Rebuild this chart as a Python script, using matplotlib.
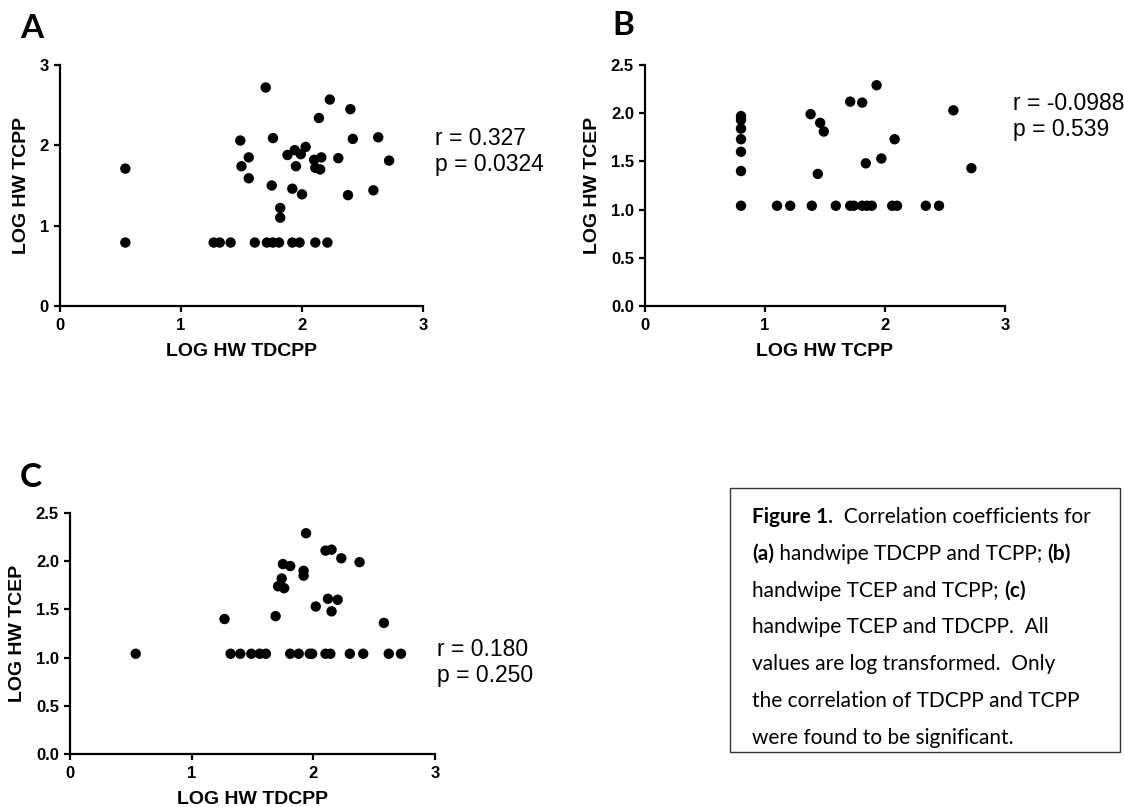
import matplotlib
matplotlib.use("Agg")
import matplotlib.pyplot as plt
from matplotlib.patches import Rectangle

# ---- data: log-transformed handwipe concentrations ----
# Panel A: TDCPP (x) vs TCPP (y)
a_tdcpp = [0.54, 0.54, 1.70, 1.49, 1.76, 1.56, 1.50, 1.56, 1.75, 1.82, 1.82,
           1.88, 1.94, 1.99, 2.03, 1.95, 1.92, 2.00, 2.14, 2.23, 2.10, 2.16,
           2.11, 2.15, 2.30, 2.40, 2.42, 2.38, 2.63, 2.59, 2.72,
           1.27, 1.32, 1.41, 1.61, 1.71, 1.76, 1.81, 1.92, 1.98, 2.11, 2.21]
a_tcpp = [1.71, 0.79, 2.72, 2.06, 2.09, 1.85, 1.74, 1.59, 1.50, 1.22, 1.10,
          1.88, 1.94, 1.89, 1.98, 1.74, 1.46, 1.39, 2.34, 2.57, 1.82, 1.85,
          1.72, 1.70, 1.84, 2.45, 2.08, 1.38, 2.10, 1.44, 1.81,
          0.79, 0.79, 0.79, 0.79, 0.79, 0.79, 0.79, 0.79, 0.79, 0.79, 0.79]

# Panel B: TCPP (x) vs TCEP (y)
b_tcpp = [0.80, 0.80, 0.80, 0.80, 0.80, 0.80, 0.80,
          1.38, 1.46, 1.49, 1.44, 1.71, 1.81, 1.93, 2.57, 2.08, 1.97, 1.84, 2.72,
          1.10, 1.21, 1.39, 1.59, 1.71, 1.74, 1.81, 1.85, 1.89, 2.06, 2.10,
          2.34, 2.45]
b_tcep = [1.97, 1.93, 1.84, 1.73, 1.60, 1.40, 1.04,
          1.99, 1.90, 1.81, 1.37, 2.12, 2.11, 2.29, 2.03, 1.73, 1.53, 1.48, 1.43,
          1.04, 1.04, 1.04, 1.04, 1.04, 1.04, 1.04, 1.04, 1.04, 1.04, 1.04,
          1.04, 1.04]

# Panel C: TDCPP (x) vs TCEP (y)
c_tdcpp = [1.27, 1.94, 2.10, 2.15, 2.23, 2.38, 1.75, 1.81, 1.92, 1.92, 1.74,
           1.71, 1.76, 1.69, 2.02, 2.12, 2.20, 2.15, 2.58,
           0.54, 1.32, 1.40, 1.49, 1.56, 1.61, 1.81, 1.88, 1.97, 1.99, 2.10,
           2.14, 2.30, 2.41, 2.62, 2.72]
c_tcep = [1.40, 2.29, 2.11, 2.12, 2.03, 1.99, 1.97, 1.95, 1.90, 1.85, 1.82,
          1.74, 1.72, 1.43, 1.53, 1.61, 1.60, 1.48, 1.36,
          1.04, 1.04, 1.04, 1.04, 1.04, 1.04, 1.04, 1.04, 1.04, 1.04, 1.04,
          1.04, 1.04, 1.04, 1.04, 1.04]

stats_a = ("r = 0.327", "p = 0.0324")
stats_b = ("r = -0.0988", "p = 0.539")
stats_c = ("r = 0.180", "p = 0.250")

x_ticks = [0, 1, 2, 3]
a_yticks = [0, 1, 2, 3]
bc_yticks = [0.0, 0.5, 1.0, 1.5, 2.0, 2.5]

W, H = 1124, 807
fig = plt.figure(figsize=(W / 100, H / 100), dpi=100)

SANS = "Liberation Sans"
CAP = "Lato"


def px_rect(left, top, right, bottom):
    return [left / W, 1 - bottom / H, (right - left) / W, (bottom - top) / H]


def scatter_panel(rect, x, y, xlabel, ylabel, ylim, yticks, ylabels):
    ax = fig.add_axes(px_rect(*rect))
    ax.scatter(x, y, s=56, color="black", edgecolors="none", clip_on=False, zorder=3)
    ax.set_xlim(0, 3)
    ax.set_ylim(*ylim)
    ax.set_xticks(x_ticks)
    ax.set_yticks(yticks)
    ax.set_yticklabels(ylabels)
    for s in ("top", "right"):
        ax.spines[s].set_visible(False)
    for s in ("left", "bottom"):
        ax.spines[s].set_linewidth(1.6)
    ax.tick_params(direction="out", length=4, width=1.6)
    ax.tick_params(axis="x", pad=4.5)
    ax.tick_params(axis="y", pad=4)
    for lab in ax.get_xticklabels() + ax.get_yticklabels():
        lab.set_fontfamily(SANS)
        lab.set_fontweight("bold")
        lab.set_fontsize(12)
    ax.set_xlabel(xlabel, fontfamily=SANS, fontweight="bold", fontsize=14, labelpad=7)
    ax.set_ylabel(ylabel, fontfamily=SANS, fontweight="bold", fontsize=14, labelpad=7)
    ax.patch.set_visible(False)
    return ax


scatter_panel((60, 65, 423, 306), a_tdcpp, a_tcpp, "LOG HW TDCPP", "LOG HW TCPP",
              (0, 3), a_yticks, [str(t) for t in a_yticks])
scatter_panel((645, 65, 1005, 306), b_tcpp, b_tcep, "LOG HW TCPP", "LOG HW TCEP",
              (0, 2.5), bc_yticks, [f"{t:.1f}" for t in bc_yticks])
scatter_panel((70, 513, 435, 754), c_tdcpp, c_tcep, "LOG HW TDCPP", "LOG HW TCEP",
              (0, 2.5), bc_yticks, [f"{t:.1f}" for t in bc_yticks])


def fig_text(xp, yp, s, **kw):
    fig.text(xp / W, 1 - yp / H, s, **kw)


# Panel letters
for letter, xp, yp in (("A", 20, 38), ("B", 612, 35), ("C", 20, 487)):
    fig_text(xp, yp, letter, fontfamily=CAP, fontweight="bold", fontsize=24,
             va="baseline", ha="left")

# Correlation statistics
for (r_txt, p_txt), xp, yp in ((stats_a, 435, 145), (stats_b, 1013, 110),
                               (stats_c, 437, 656)):
    fig_text(xp, yp, r_txt, fontfamily=SANS, fontsize=16.5, va="baseline")
    fig_text(xp, yp + 26, p_txt, fontfamily=SANS, fontsize=16.5, va="baseline")

# Caption box
fig.patches.append(Rectangle((730 / W, 1 - 752 / H), (1120 - 730) / W, (752 - 488) / H,
                             transform=fig.transFigure, fill=False,
                             edgecolor="#333333", linewidth=1.0))

caption = [
    [("Figure 1.", "bold"), ("  Correlation coefficients for", "normal")],
    [("(a)", "bold"), (" handwipe TDCPP and TCPP; ", "normal"), ("(b)", "bold")],
    [("handwipe TCEP and TCPP; ", "normal"), ("(c)", "bold")],
    [("handwipe TCEP and TDCPP.  All", "normal")],
    [("values are log transformed.  Only", "normal")],
    [("the correlation of TDCPP and TCPP", "normal")],
    [("were found to be significant.", "normal")],
]

renderer = fig.canvas.get_renderer()
y0 = 523
for i, line in enumerate(caption):
    xp = 752
    yp = y0 + i * 36.8
    for seg, weight in line:
        t = fig.text(xp / W, 1 - yp / H, seg, fontfamily=CAP, fontweight=weight,
                     fontsize=15, va="baseline", ha="left")
        bb = t.get_window_extent(renderer=renderer)
        xp += bb.width

fig.savefig("out.png", dpi=100, facecolor="white")
